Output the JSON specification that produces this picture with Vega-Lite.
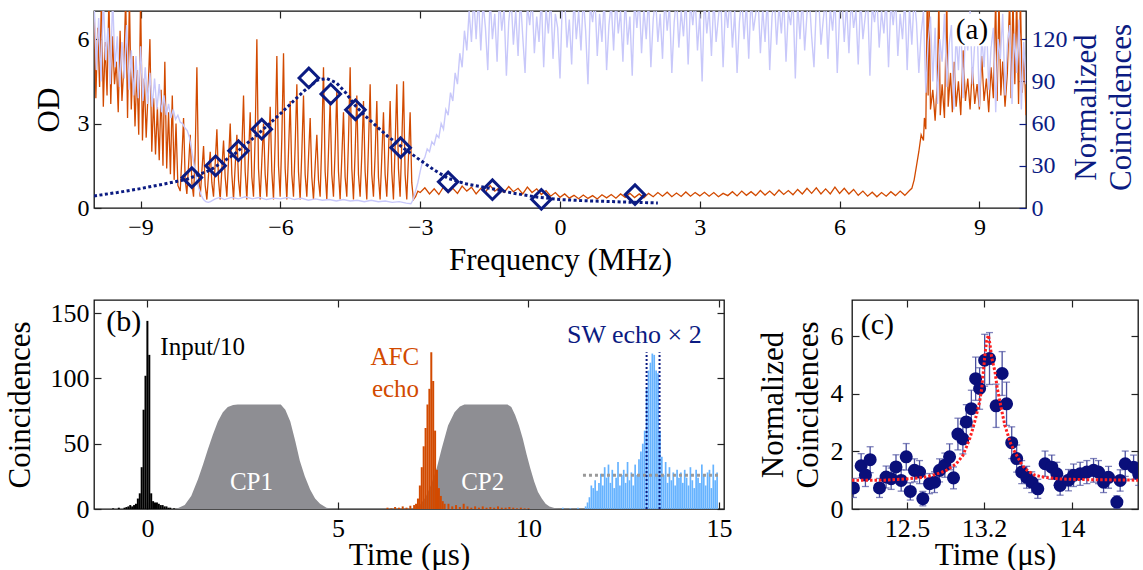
{
"$schema": "https://vega.github.io/schema/vega-lite/v6.json",
"padding": {"left": 3, "top": 9, "right": 0, "bottom": 0},
"background": "white",
"config": {
  "font": "Liberation Serif",
  "view": {"stroke": "#111", "strokeWidth": 1.3},
  "axis": {"grid": false, "domain": false, "labelFont": "Liberation Serif", "titleFont": "Liberation Serif", "titleFontWeight": "normal", "labelColor": "#000", "titleColor": "#000", "tickColor": "#222", "tickWidth": 1.2, "tickSize": -7, "labelFlush": false, "labelOverlap": false}
},
"datasets": {
  "od": [
    {"f":-10.00,"v":7.5},{"f":-9.96,"v":3.9},{"f":-9.92,"v":6.4},{"f":-9.88,"v":4.3},{"f":-9.84,"v":7.5},{"f":-9.80,"v":3.6},{"f":-9.76,"v":5.9},{"f":-9.72,"v":4.0},{"f":-9.68,"v":7.5},{"f":-9.64,"v":3.7},{"f":-9.60,"v":6.1},{"f":-9.56,"v":4.4},{"f":-9.52,"v":5.2},{"f":-9.48,"v":3.4},{"f":-9.44,"v":6.3},{"f":-9.40,"v":3.8},{"f":-9.36,"v":5.0},{"f":-9.32,"v":7.5},{"f":-9.28,"v":3.2},{"f":-9.24,"v":7.5},{"f":-9.20,"v":3.5},{"f":-9.16,"v":5.4},{"f":-9.12,"v":2.9},{"f":-9.08,"v":4.9},{"f":-9.04,"v":2.6},{"f":-9.00,"v":7.5},{"f":-8.96,"v":2.4},{"f":-8.92,"v":4.6},{"f":-8.88,"v":2.5},{"f":-8.84,"v":4.1},{"f":-8.80,"v":6.0},{"f":-8.76,"v":2.0},{"f":-8.72,"v":3.9},{"f":-8.68,"v":1.9},{"f":-8.64,"v":3.6},{"f":-8.60,"v":1.7},{"f":-8.56,"v":4.2},{"f":-8.52,"v":1.5},{"f":-8.48,"v":5.2},{"f":-8.44,"v":1.4},{"f":-8.40,"v":3.4},{"f":-8.36,"v":1.2},{"f":-8.32,"v":4.0},{"f":-8.28,"v":1.0},{"f":-8.24,"v":3.0},{"f":-8.20,"v":0.8},
    {"f":-8.150,"v":0.6},{"f":-8.114,"v":1.8},{"f":-8.078,"v":3.2},{"f":-8.043,"v":1.0},
    {"f":-8.007,"v":0.5},{"f":-7.971,"v":1.5},{"f":-7.935,"v":2.6},{"f":-7.900,"v":0.9},
    {"f":-7.864,"v":0.4},{"f":-7.828,"v":2.0},{"f":-7.792,"v":5.0},{"f":-7.757,"v":1.2},
    {"f":-7.721,"v":0.4},{"f":-7.685,"v":1.3},{"f":-7.649,"v":2.2},{"f":-7.614,"v":0.8},
    {"f":-7.578,"v":0.3},{"f":-7.542,"v":1.2},{"f":-7.506,"v":2.0},{"f":-7.471,"v":0.9},
    {"f":-7.435,"v":0.4},{"f":-7.399,"v":1.6},{"f":-7.363,"v":2.8},{"f":-7.328,"v":1.0},
    {"f":-7.292,"v":0.3},{"f":-7.256,"v":1.4},{"f":-7.220,"v":2.4},{"f":-7.185,"v":1.1},
    {"f":-7.149,"v":0.4},{"f":-7.113,"v":1.7},{"f":-7.077,"v":3.0},{"f":-7.042,"v":1.2},
    {"f":-7.006,"v":0.3},{"f":-6.970,"v":1.5},{"f":-6.934,"v":2.6},{"f":-6.899,"v":1.0},
    {"f":-6.863,"v":0.4},{"f":-6.827,"v":2.1},{"f":-6.791,"v":4.0},{"f":-6.756,"v":1.3},
    {"f":-6.720,"v":0.3},{"f":-6.684,"v":1.8},{"f":-6.648,"v":3.4},{"f":-6.613,"v":1.1},
    {"f":-6.577,"v":0.4},{"f":-6.541,"v":2.6},{"f":-6.505,"v":6.0},{"f":-6.470,"v":1.4},
    {"f":-6.434,"v":0.3},{"f":-6.398,"v":1.7},{"f":-6.362,"v":3.0},{"f":-6.327,"v":1.2},
    {"f":-6.291,"v":0.4},{"f":-6.255,"v":2.0},{"f":-6.219,"v":3.6},{"f":-6.184,"v":1.3},
    {"f":-6.148,"v":0.3},{"f":-6.112,"v":2.4},{"f":-6.076,"v":5.4},{"f":-6.041,"v":1.5},
    {"f":-6.005,"v":0.4},{"f":-5.969,"v":2.5},{"f":-5.933,"v":5.5},{"f":-5.898,"v":1.4},
    {"f":-5.862,"v":0.3},{"f":-5.826,"v":2.0},{"f":-5.790,"v":3.8},{"f":-5.755,"v":1.2},
    {"f":-5.719,"v":0.4},{"f":-5.683,"v":2.2},{"f":-5.647,"v":4.4},{"f":-5.612,"v":1.3},
    {"f":-5.576,"v":0.3},{"f":-5.540,"v":2.0},{"f":-5.504,"v":4.0},{"f":-5.469,"v":1.2},
    {"f":-5.433,"v":0.4},{"f":-5.397,"v":1.8},{"f":-5.361,"v":3.2},{"f":-5.326,"v":1.1},
    {"f":-5.290,"v":0.3},{"f":-5.254,"v":1.5},{"f":-5.218,"v":2.6},{"f":-5.183,"v":1.0},
    {"f":-5.147,"v":0.4},{"f":-5.111,"v":2.4},{"f":-5.075,"v":5.0},{"f":-5.040,"v":1.3},
    {"f":-5.004,"v":0.3},{"f":-4.968,"v":2.0},{"f":-4.932,"v":3.8},{"f":-4.897,"v":1.2},
    {"f":-4.861,"v":0.4},{"f":-4.825,"v":2.1},{"f":-4.789,"v":4.2},{"f":-4.754,"v":1.3},
    {"f":-4.718,"v":0.3},{"f":-4.682,"v":1.8},{"f":-4.646,"v":3.4},{"f":-4.611,"v":1.1},
    {"f":-4.575,"v":0.4},{"f":-4.539,"v":2.4},{"f":-4.503,"v":5.0},{"f":-4.468,"v":1.4},
    {"f":-4.432,"v":0.3},{"f":-4.396,"v":2.0},{"f":-4.360,"v":4.0},{"f":-4.325,"v":1.2},
    {"f":-4.289,"v":0.4},{"f":-4.253,"v":1.9},{"f":-4.217,"v":3.8},{"f":-4.182,"v":1.3},
    {"f":-4.146,"v":0.3},{"f":-4.110,"v":2.2},{"f":-4.074,"v":4.4},{"f":-4.039,"v":1.2},
    {"f":-4.003,"v":0.4},{"f":-3.967,"v":1.9},{"f":-3.931,"v":3.8},{"f":-3.896,"v":1.1},
    {"f":-3.860,"v":0.3},{"f":-3.824,"v":1.8},{"f":-3.788,"v":3.4},{"f":-3.753,"v":1.2},
    {"f":-3.717,"v":0.4},{"f":-3.681,"v":1.9},{"f":-3.645,"v":3.8},{"f":-3.610,"v":1.3},
    {"f":-3.574,"v":0.3},{"f":-3.538,"v":2.2},{"f":-3.502,"v":4.4},{"f":-3.467,"v":1.4},
    {"f":-3.431,"v":0.4},{"f":-3.395,"v":2.3},{"f":-3.359,"v":4.5},{"f":-3.324,"v":1.2},
    {"f":-3.288,"v":0.3},{"f":-3.252,"v":1.8},{"f":-3.216,"v":3.4},{"f":-3.181,"v":0.9},
    {"f":-3.145,"v":0.3},{"f":-3.10,"v":0.4},{"f":-3.05,"v":0.6},
    {"f":-3.0,"v":0.55},{"f":-2.9,"v":0.72},{"f":-2.8,"v":0.5},{"f":-2.7,"v":0.68},{"f":-2.6,"v":0.48},{"f":-2.5,"v":0.75},{"f":-2.4,"v":0.55},{"f":-2.3,"v":0.7},{"f":-2.2,"v":0.52},{"f":-2.1,"v":0.78},{"f":-2.0,"v":0.6},{"f":-1.9,"v":0.74},{"f":-1.8,"v":0.5},{"f":-1.7,"v":0.7},{"f":-1.6,"v":0.56},{"f":-1.5,"v":0.8},{"f":-1.4,"v":0.6},{"f":-1.3,"v":0.72},{"f":-1.2,"v":0.55},{"f":-1.1,"v":0.76},{"f":-1.0,"v":0.58},{"f":-0.9,"v":0.7},{"f":-0.8,"v":0.5},{"f":-0.7,"v":0.74},{"f":-0.6,"v":0.55},{"f":-0.5,"v":0.68},{"f":-0.4,"v":0.48},{"f":-0.3,"v":0.62},{"f":-0.2,"v":0.42},{"f":-0.1,"v":0.55},
    {"f":0.0,"v":0.38},{"f":0.1,"v":0.5},{"f":0.2,"v":0.35},{"f":0.3,"v":0.45},{"f":0.4,"v":0.33},{"f":0.5,"v":0.46},{"f":0.6,"v":0.34},{"f":0.7,"v":0.44},{"f":0.8,"v":0.32},{"f":0.9,"v":0.47},{"f":1.0,"v":0.36},{"f":1.1,"v":0.48},{"f":1.2,"v":0.35},{"f":1.3,"v":0.5},{"f":1.4,"v":0.38},{"f":1.5,"v":0.52},{"f":1.6,"v":0.37},{"f":1.7,"v":0.5},{"f":1.8,"v":0.36},{"f":1.9,"v":0.52},{"f":2.0,"v":0.4},{"f":2.1,"v":0.55},{"f":2.2,"v":0.42},{"f":2.3,"v":0.56},{"f":2.4,"v":0.4},{"f":2.5,"v":0.53},{"f":2.6,"v":0.41},{"f":2.7,"v":0.57},{"f":2.8,"v":0.42},{"f":2.9,"v":0.55},{"f":3.0,"v":0.43},{"f":3.1,"v":0.56},{"f":3.2,"v":0.42},{"f":3.3,"v":0.55},{"f":3.4,"v":0.4},{"f":3.5,"v":0.52},{"f":3.6,"v":0.44},{"f":3.7,"v":0.58},{"f":3.8,"v":0.43},{"f":3.9,"v":0.6},{"f":4.0,"v":0.45},{"f":4.1,"v":0.58},{"f":4.2,"v":0.44},{"f":4.3,"v":0.62},{"f":4.4,"v":0.46},{"f":4.5,"v":0.6},{"f":4.6,"v":0.45},{"f":4.7,"v":0.64},{"f":4.8,"v":0.48},{"f":4.9,"v":0.62},{"f":5.0,"v":0.47},{"f":5.1,"v":0.66},{"f":5.2,"v":0.5},{"f":5.3,"v":0.7},{"f":5.4,"v":0.52},{"f":5.5,"v":0.72},{"f":5.6,"v":0.5},{"f":5.7,"v":0.68},{"f":5.8,"v":0.5},{"f":5.9,"v":0.74},{"f":6.0,"v":0.52},{"f":6.1,"v":0.7},{"f":6.2,"v":0.5},{"f":6.3,"v":0.66},{"f":6.4,"v":0.45},{"f":6.5,"v":0.6},{"f":6.6,"v":0.42},{"f":6.7,"v":0.56},{"f":6.8,"v":0.4},{"f":6.9,"v":0.55},{"f":7.0,"v":0.42},{"f":7.1,"v":0.58},{"f":7.2,"v":0.44},{"f":7.3,"v":0.6},{"f":7.4,"v":0.45},{"f":7.5,"v":0.62},
    {"f":7.55,"v":0.7},{"f":7.6,"v":1.0},{"f":7.65,"v":1.5},{"f":7.7,"v":2.0},{"f":7.75,"v":2.6},{"f":7.8,"v":2.4},{"f":7.82,"v":3.2},{"f":7.85,"v":2.8},{"f":7.88,"v":7.5},{"f":7.9,"v":4.0},{"f":7.92,"v":7.5},
    {"f":7.95,"v":3.5},{"f":8.0,"v":4.2},{"f":8.05,"v":3.1},{"f":8.1,"v":4.6},{"f":8.13,"v":7.5},{"f":8.16,"v":3.3},{"f":8.2,"v":4.4},{"f":8.25,"v":3.2},{"f":8.3,"v":7.5},{"f":8.33,"v":3.6},{"f":8.38,"v":4.8},{"f":8.42,"v":3.4},{"f":8.46,"v":5.2},{"f":8.5,"v":3.6},{"f":8.55,"v":4.5},{"f":8.6,"v":3.3},{"f":8.65,"v":5.6},{"f":8.7,"v":3.8},{"f":8.75,"v":4.6},{"f":8.8,"v":3.5},{"f":8.85,"v":5.0},{"f":8.9,"v":3.7},{"f":8.95,"v":4.4},{"f":9.0,"v":3.5},{"f":9.05,"v":5.4},{"f":9.1,"v":3.8},{"f":9.15,"v":4.6},{"f":9.2,"v":3.4},{"f":9.25,"v":5.0},{"f":9.3,"v":3.9},{"f":9.35,"v":7.5},{"f":9.38,"v":3.8},{"f":9.42,"v":7.5},{"f":9.46,"v":4.0},{"f":9.5,"v":5.2},{"f":9.55,"v":3.6},{"f":9.6,"v":4.8},{"f":9.65,"v":7.5},{"f":9.68,"v":3.9},{"f":9.72,"v":7.5},{"f":9.76,"v":4.4},{"f":9.8,"v":7.5},{"f":9.84,"v":3.7},{"f":9.88,"v":7.5},{"f":9.92,"v":4.1},{"f":9.96,"v":5.5},{"f":10.0,"v":3.3}
  ],
  "tr": [
    {"f":-10.00,"v":150},{"f":-9.95,"v":98},{"f":-9.90,"v":135},{"f":-9.85,"v":90},{"f":-9.80,"v":150},{"f":-9.75,"v":105},{"f":-9.70,"v":128},{"f":-9.65,"v":88},{"f":-9.60,"v":150},{"f":-9.55,"v":100},{"f":-9.50,"v":122},{"f":-9.45,"v":86},{"f":-9.40,"v":118},{"f":-9.35,"v":92},{"f":-9.30,"v":130},{"f":-9.25,"v":84},{"f":-9.20,"v":112},{"f":-9.15,"v":80},{"f":-9.10,"v":108},{"f":-9.05,"v":78},{"f":-9.00,"v":115},{"f":-8.95,"v":76},{"f":-8.90,"v":100},{"f":-8.85,"v":74},{"f":-8.80,"v":96},{"f":-8.75,"v":72},{"f":-8.70,"v":92},{"f":-8.65,"v":70},{"f":-8.60,"v":88},{"f":-8.55,"v":68},{"f":-8.50,"v":80},{"f":-8.45,"v":66},{"f":-8.40,"v":74},{"f":-8.35,"v":64},{"f":-8.30,"v":70},{"f":-8.25,"v":63},{"f":-8.20,"v":66},{"f":-8.15,"v":61},{"f":-8.10,"v":60},{"f":-8.05,"v":57},{"f":-8.00,"v":55},{"f":-7.95,"v":50},{"f":-7.90,"v":40},{"f":-7.85,"v":30},{"f":-7.80,"v":20},{"f":-7.75,"v":14},{"f":-7.70,"v":9},{"f":-7.65,"v":6},{"f":-7.60,"v":4.5},{"f":-7.55,"v":4},{"f":-7.50,"v":4.5},{"f":-7.40,"v":6.5},{"f":-7.30,"v":7.5},
    {"f":-7.2,"v":6},{"f":-7.05,"v":7.5},{"f":-6.9,"v":6.5},{"f":-6.75,"v":8},{"f":-6.6,"v":6.5},{"f":-6.45,"v":7.5},{"f":-6.3,"v":6},{"f":-6.15,"v":7},{"f":-6.0,"v":6.5},{"f":-5.85,"v":7.5},{"f":-5.7,"v":6},{"f":-5.55,"v":7},{"f":-5.4,"v":5.5},{"f":-5.25,"v":6.5},{"f":-5.1,"v":5.5},{"f":-4.95,"v":6},{"f":-4.8,"v":5},{"f":-4.65,"v":6},{"f":-4.5,"v":5},{"f":-4.35,"v":5.5},{"f":-4.2,"v":4.5},{"f":-4.05,"v":5.5},{"f":-3.9,"v":4.5},{"f":-3.75,"v":5},{"f":-3.6,"v":4},{"f":-3.45,"v":4.5},{"f":-3.3,"v":3.5},{"f":-3.2,"v":3},
    {"f":-3.15,"v":6},{"f":-3.1,"v":12},{"f":-3.05,"v":18},{"f":-3.0,"v":26},{"f":-2.95,"v":33},{"f":-2.9,"v":36},{"f":-2.85,"v":42},{"f":-2.8,"v":40},{"f":-2.75,"v":47},{"f":-2.7,"v":45},{"f":-2.65,"v":52},{"f":-2.6,"v":50},{"f":-2.55,"v":60},{"f":-2.5,"v":56},{"f":-2.45,"v":70},{"f":-2.4,"v":66},{"f":-2.35,"v":82},{"f":-2.3,"v":76},{"f":-2.25,"v":96},{"f":-2.2,"v":88},{"f":-2.15,"v":110},{"f":-2.1,"v":100},{"f":-2.05,"v":126},{"f":-2.0,"v":112},{"f":-1.95,"v":140},{"f":-1.9,"v":118},{"f":-1.85,"v":150},{"f":-1.8,"v":120},
    {"f":-1.75,"v":150},{"f":-1.70,"v":112},{"f":-1.65,"v":146},{"f":-1.60,"v":128},{"f":-1.55,"v":98},{"f":-1.50,"v":150},{"f":-1.45,"v":120},{"f":-1.40,"v":138},{"f":-1.35,"v":104},{"f":-1.30,"v":150},
    {"f":-1.25,"v":126},{"f":-1.20,"v":142},{"f":-1.15,"v":94},{"f":-1.10,"v":132},{"f":-1.05,"v":150},{"f":-1.00,"v":116},{"f":-0.95,"v":140},{"f":-0.90,"v":108},{"f":-0.85,"v":150},{"f":-0.80,"v":122},
    {"f":-0.75,"v":96},{"f":-0.70,"v":144},{"f":-0.65,"v":130},{"f":-0.60,"v":150},{"f":-0.55,"v":110},{"f":-0.50,"v":136},{"f":-0.45,"v":118},{"f":-0.40,"v":150},{"f":-0.35,"v":100},{"f":-0.30,"v":142},
    {"f":-0.25,"v":124},{"f":-0.20,"v":150},{"f":-0.15,"v":106},{"f":-0.10,"v":138},{"f":-0.05,"v":128},{"f":0.00,"v":92},{"f":0.05,"v":146},{"f":0.10,"v":150},{"f":0.15,"v":114},{"f":0.20,"v":134},
    {"f":0.25,"v":102},{"f":0.30,"v":150},{"f":0.35,"v":120},{"f":0.40,"v":140},{"f":0.45,"v":112},{"f":0.50,"v":150},{"f":0.55,"v":126},{"f":0.60,"v":88},{"f":0.65,"v":144},{"f":0.70,"v":132},
    {"f":0.75,"v":150},{"f":0.80,"v":108},{"f":0.85,"v":138},{"f":0.90,"v":118},{"f":0.95,"v":150},{"f":1.00,"v":98},{"f":1.05,"v":130},{"f":1.10,"v":146},{"f":1.15,"v":112},{"f":1.20,"v":150},
    {"f":1.25,"v":124},{"f":1.30,"v":140},{"f":1.35,"v":104},{"f":1.40,"v":150},{"f":1.45,"v":116},{"f":1.50,"v":136},{"f":1.55,"v":94},{"f":1.60,"v":148},{"f":1.65,"v":128},{"f":1.70,"v":150},
    {"f":1.75,"v":110},{"f":1.80,"v":142},{"f":1.85,"v":120},{"f":1.90,"v":150},{"f":1.95,"v":100},{"f":2.00,"v":134},{"f":2.05,"v":150},{"f":2.10,"v":118},{"f":2.15,"v":138},{"f":2.20,"v":106},
    {"f":2.25,"v":150},{"f":2.30,"v":126},{"f":2.35,"v":144},{"f":2.40,"v":96},{"f":2.45,"v":132},{"f":2.50,"v":150},{"f":2.55,"v":114},{"f":2.60,"v":140},{"f":2.65,"v":122},{"f":2.70,"v":150},
    {"f":2.75,"v":102},{"f":2.80,"v":146},{"f":2.85,"v":130},{"f":2.90,"v":150},{"f":2.95,"v":112},{"f":3.00,"v":138},{"f":3.05,"v":90},{"f":3.10,"v":150},{"f":3.15,"v":124},{"f":3.20,"v":142},
    {"f":3.25,"v":108},{"f":3.30,"v":150},{"f":3.35,"v":118},{"f":3.40,"v":136},{"f":3.45,"v":150},{"f":3.50,"v":100},{"f":3.55,"v":144},{"f":3.60,"v":128},{"f":3.65,"v":150},{"f":3.70,"v":114},
    {"f":3.75,"v":140},{"f":3.80,"v":96},{"f":3.85,"v":132},{"f":3.90,"v":150},{"f":3.95,"v":120},{"f":4.00,"v":146},{"f":4.05,"v":106},{"f":4.10,"v":150},{"f":4.15,"v":126},{"f":4.20,"v":138},
    {"f":4.25,"v":150},{"f":4.30,"v":110},{"f":4.35,"v":142},{"f":4.40,"v":118},{"f":4.45,"v":150},{"f":4.50,"v":98},{"f":4.55,"v":136},{"f":4.60,"v":150},{"f":4.65,"v":116},{"f":4.70,"v":144},
    {"f":4.75,"v":124},{"f":4.80,"v":150},{"f":4.85,"v":104},{"f":4.90,"v":140},{"f":4.95,"v":130},{"f":5.00,"v":150},{"f":5.05,"v":92},{"f":5.10,"v":146},{"f":5.15,"v":120},{"f":5.20,"v":150},
    {"f":5.25,"v":112},{"f":5.30,"v":138},{"f":5.35,"v":150},{"f":5.40,"v":122},{"f":5.45,"v":100},{"f":5.50,"v":144},{"f":5.55,"v":150},{"f":5.60,"v":116},{"f":5.65,"v":134},{"f":5.70,"v":150},
    {"f":5.75,"v":106},{"f":5.80,"v":142},{"f":5.85,"v":126},{"f":5.90,"v":150},{"f":5.95,"v":96},{"f":6.00,"v":138},{"f":6.05,"v":150},{"f":6.10,"v":118},{"f":6.15,"v":146},{"f":6.20,"v":110},
    {"f":6.25,"v":150},{"f":6.30,"v":128},{"f":6.35,"v":140},{"f":6.40,"v":102},{"f":6.45,"v":150},{"f":6.50,"v":120},{"f":6.55,"v":136},{"f":6.60,"v":150},{"f":6.65,"v":94},{"f":6.70,"v":144},
    {"f":6.75,"v":132},{"f":6.80,"v":150},{"f":6.85,"v":114},{"f":6.90,"v":140},{"f":6.95,"v":124},{"f":7.00,"v":150},{"f":7.05,"v":100},{"f":7.10,"v":146},{"f":7.15,"v":130},{"f":7.20,"v":150},
    {"f":7.25,"v":108},{"f":7.30,"v":138},{"f":7.35,"v":120},{"f":7.40,"v":150},{"f":7.45,"v":98},{"f":7.50,"v":142},{"f":7.55,"v":116},{"f":7.60,"v":150},
    {"f":7.65,"v":132},{"f":7.70,"v":96},{"f":7.75,"v":124},{"f":7.80,"v":140},{"f":7.85,"v":82},{"f":7.90,"v":118},{"f":7.95,"v":136},{"f":8.00,"v":90},{"f":8.05,"v":128},{"f":8.10,"v":74},
    {"f":8.15,"v":120},{"f":8.20,"v":104},{"f":8.25,"v":138},{"f":8.30,"v":86},{"f":8.35,"v":116},{"f":8.40,"v":130},{"f":8.45,"v":70},{"f":8.50,"v":124},{"f":8.55,"v":98},{"f":8.60,"v":134},
    {"f":8.65,"v":78},{"f":8.70,"v":126},{"f":8.75,"v":112},{"f":8.80,"v":140},{"f":8.85,"v":88},{"f":8.90,"v":118},{"f":8.95,"v":132},{"f":9.00,"v":72},{"f":9.05,"v":122},{"f":9.10,"v":100},
    {"f":9.15,"v":136},{"f":9.20,"v":84},{"f":9.25,"v":114},{"f":9.30,"v":128},{"f":9.35,"v":68},{"f":9.40,"v":120},{"f":9.45,"v":106},{"f":9.50,"v":138},{"f":9.55,"v":80},{"f":9.60,"v":116},
    {"f":9.65,"v":130},{"f":9.70,"v":74},{"f":9.75,"v":124},{"f":9.80,"v":96},{"f":9.85,"v":134},{"f":9.90,"v":70},{"f":9.95,"v":118},{"f":10.00,"v":88}
  ],
  "gfit": [
    {"f":-10,"v":8.6},{"f":-9.5,"v":11},{"f":-9,"v":13.8},{"f":-8.5,"v":17},{"f":-8,"v":20.5},{"f":-7.5,"v":27},{"f":-7,"v":38},{"f":-6.5,"v":52},{"f":-6,"v":67},{"f":-5.5,"v":83},{"f":-5.2,"v":91},{"f":-5.0,"v":92},{"f":-4.8,"v":89},{"f":-4.6,"v":82},{"f":-4.4,"v":73},{"f":-4.2,"v":66},{"f":-4.0,"v":60},{"f":-3.7,"v":51},{"f":-3.4,"v":43.6},{"f":-3.0,"v":34},{"f":-2.7,"v":27},{"f":-2.4,"v":21},{"f":-2.0,"v":17},{"f":-1.5,"v":14},{"f":-1.0,"v":10.5},{"f":-0.5,"v":7.8},{"f":0,"v":6},{"f":0.5,"v":5.2},{"f":1.0,"v":4.7},{"f":1.6,"v":4.0},{"f":2.1,"v":3.6}
  ],
  "dia": [
    {"f":-7.90,"v":21.6},{"f":-7.39,"v":30},{"f":-6.90,"v":40.7},{"f":-6.40,"v":56},{"f":-5.39,"v":92.4},{"f":-4.92,"v":81},{"f":-4.39,"v":69.8},{"f":-3.42,"v":42.9},{"f":-2.40,"v":18.6},{"f":-1.45,"v":13},{"f":-0.40,"v":6.2},{"f":1.61,"v":9.5}
  ],
  "inp": [
    {"t":-0.9,"v":0.5},{"t":-0.75,"v":1},{"t":-0.6,"v":1},{"t":-0.55,"v":1.5},{"t":-0.5,"v":2},{"t":-0.45,"v":3},{"t":-0.4,"v":2},{"t":-0.35,"v":3},{"t":-0.3,"v":4},{"t":-0.25,"v":8},{"t":-0.2,"v":12},{"t":-0.15,"v":32},{"t":-0.1,"v":76},{"t":-0.05,"v":102},{"t":0.0,"v":144},{"t":0.05,"v":118},{"t":0.1,"v":12},{"t":0.15,"v":6},{"t":0.2,"v":5},{"t":0.25,"v":5},{"t":0.3,"v":4},{"t":0.35,"v":3},{"t":0.4,"v":3},{"t":0.45,"v":2},{"t":0.5,"v":2},{"t":0.55,"v":1},{"t":0.6,"v":1},{"t":0.7,"v":0.5}
  ],
  "afc": [
    {"t":6.3,"v":1},{"t":6.4,"v":0.5},{"t":6.5,"v":1.5},{"t":6.6,"v":1},{"t":6.7,"v":2},{"t":6.8,"v":1},{"t":6.9,"v":2.5},{"t":7.0,"v":3},{"t":7.05,"v":4},{"t":7.10,"v":8},{"t":7.15,"v":18},{"t":7.20,"v":32},{"t":7.25,"v":48},{"t":7.30,"v":62},{"t":7.35,"v":80},{"t":7.40,"v":92},{"t":7.45,"v":120},{"t":7.50,"v":98},{"t":7.55,"v":60},{"t":7.60,"v":30},{"t":7.65,"v":16},{"t":7.70,"v":10},{"t":7.75,"v":6},{"t":7.80,"v":4},{"t":7.9,"v":4},{"t":8.0,"v":2},{"t":8.1,"v":3},{"t":8.2,"v":1.5},{"t":8.3,"v":4},{"t":8.4,"v":2},{"t":8.5,"v":1},{"t":8.6,"v":2},{"t":8.7,"v":1},{"t":8.8,"v":2},{"t":8.9,"v":1},{"t":9.0,"v":1.5},{"t":9.1,"v":1},{"t":9.2,"v":2},{"t":9.3,"v":1},{"t":9.4,"v":1},{"t":9.5,"v":1.5},{"t":9.6,"v":1},{"t":9.7,"v":0.5},{"t":9.8,"v":1},{"t":9.9,"v":0.5},{"t":10.0,"v":0.5}
  ],
  "sw": [
    {"t":10.9,"v":1},{"t":11.1,"v":0.5},{"t":11.3,"v":1},
    {"t":11.50,"v":2},{"t":11.55,"v":5},{"t":11.60,"v":9},{"t":11.65,"v":18},{"t":11.70,"v":16},{"t":11.75,"v":22},{"t":11.80,"v":14},{"t":11.85,"v":20},{"t":11.90,"v":27},{"t":11.95,"v":18},{"t":12.00,"v":32},{"t":12.05,"v":24},{"t":12.10,"v":34},{"t":12.15,"v":20},{"t":12.20,"v":30},{"t":12.25,"v":16},{"t":12.30,"v":24},{"t":12.35,"v":36},{"t":12.40,"v":18},{"t":12.45,"v":26},{"t":12.50,"v":30},{"t":12.55,"v":20},{"t":12.60,"v":36},{"t":12.65,"v":22},{"t":12.70,"v":28},{"t":12.75,"v":18},{"t":12.80,"v":34},{"t":12.85,"v":26},{"t":12.90,"v":38},{"t":12.95,"v":44},{"t":13.00,"v":50},{"t":13.05,"v":60},{"t":13.10,"v":92},{"t":13.15,"v":106},{"t":13.20,"v":112},{"t":13.25,"v":119},{"t":13.30,"v":118},{"t":13.35,"v":106},{"t":13.40,"v":104},{"t":13.45,"v":60},{"t":13.50,"v":40},{"t":13.55,"v":26},{"t":13.60,"v":36},{"t":13.65,"v":20},{"t":13.70,"v":32},{"t":13.75,"v":22},{"t":13.80,"v":28},{"t":13.85,"v":18},{"t":13.90,"v":30},{"t":13.95,"v":24},{"t":14.00,"v":28},{"t":14.05,"v":20},{"t":14.10,"v":30},{"t":14.15,"v":24},{"t":14.20,"v":18},{"t":14.25,"v":32},{"t":14.30,"v":22},{"t":14.35,"v":16},{"t":14.40,"v":30},{"t":14.45,"v":24},{"t":14.50,"v":20},{"t":14.55,"v":34},{"t":14.60,"v":26},{"t":14.65,"v":18},{"t":14.70,"v":28},{"t":14.75,"v":30},{"t":14.80,"v":16},{"t":14.85,"v":34},{"t":14.90,"v":22},{"t":14.95,"v":28}
  ],
  "cp1": [
    {"t":0.75,"v":0},{"t":0.98,"v":3},{"t":1.15,"v":10},{"t":1.33,"v":23},{"t":1.46,"v":34},{"t":1.59,"v":46},{"t":1.72,"v":57},{"t":1.85,"v":67},{"t":1.98,"v":74},{"t":2.11,"v":78},{"t":2.25,"v":79.6},{"t":2.37,"v":80},{"t":3.5,"v":80},{"t":3.62,"v":76},{"t":3.75,"v":67},{"t":3.88,"v":52},{"t":4.0,"v":37},{"t":4.13,"v":25},{"t":4.27,"v":15},{"t":4.4,"v":8},{"t":4.53,"v":4},{"t":4.7,"v":1},{"t":4.9,"v":0}
  ],
  "cp2": [
    {"t":7.0,"v":0},{"t":7.15,"v":3},{"t":7.3,"v":9},{"t":7.45,"v":19},{"t":7.59,"v":31},{"t":7.72,"v":46},{"t":7.89,"v":64},{"t":8.06,"v":74},{"t":8.2,"v":78.5},{"t":8.32,"v":80},{"t":9.45,"v":80},{"t":9.55,"v":78},{"t":9.65,"v":72},{"t":9.75,"v":64},{"t":9.85,"v":54},{"t":9.95,"v":42},{"t":10.05,"v":31},{"t":10.15,"v":21},{"t":10.25,"v":13},{"t":10.35,"v":8},{"t":10.45,"v":4},{"t":10.55,"v":2},{"t":10.7,"v":0.5},{"t":10.8,"v":0}
  ],
  "pts": [
    {"t":12.013,"v":0.73,"lo":0.40,"hi":1.06},{"t":12.083,"v":1.50,"lo":1.08,"hi":1.92},{"t":12.122,"v":1.18,"lo":0.78,"hi":1.58},{"t":12.165,"v":1.71,"lo":1.26,"hi":2.16},{"t":12.25,"v":0.73,"lo":0.40,"hi":1.06},{"t":12.31,"v":1.11,"lo":0.73,"hi":1.49},{"t":12.356,"v":1.05,"lo":0.68,"hi":1.42},{"t":12.40,"v":1.46,"lo":1.04,"hi":1.88},{"t":12.447,"v":0.99,"lo":0.62,"hi":1.36},{"t":12.493,"v":1.81,"lo":1.35,"hi":2.27},{"t":12.53,"v":0.61,"lo":0.31,"hi":0.91},{"t":12.568,"v":1.34,"lo":0.94,"hi":1.74},{"t":12.614,"v":1.28,"lo":0.88,"hi":1.68},{"t":12.644,"v":0.36,"lo":0.11,"hi":0.61},{"t":12.705,"v":0.88,"lo":0.53,"hi":1.23},{"t":12.75,"v":0.93,"lo":0.57,"hi":1.29},{"t":12.796,"v":1.34,"lo":0.94,"hi":1.74},{"t":12.844,"v":1.52,"lo":1.10,"hi":1.94},{"t":12.887,"v":1.81,"lo":1.36,"hi":2.26},{"t":12.923,"v":1.08,"lo":0.70,"hi":1.46},{"t":12.963,"v":2.60,"lo":2.05,"hi":3.15},{"t":13.008,"v":2.43,"lo":1.91,"hi":2.95},{"t":13.039,"v":3.02,"lo":2.42,"hi":3.62},{"t":13.085,"v":3.48,"lo":2.84,"hi":4.12},{"t":13.124,"v":4.52,"lo":3.77,"hi":5.27},{"t":13.16,"v":4.18,"lo":3.46,"hi":4.90},{"t":13.206,"v":5.16,"lo":4.26,"hi":6.06},{"t":13.25,"v":5.22,"lo":4.32,"hi":6.12},{"t":13.31,"v":3.58,"lo":2.83,"hi":4.33},{"t":13.365,"v":4.70,"lo":3.94,"hi":5.46},{"t":13.405,"v":3.65,"lo":2.90,"hi":4.40},{"t":13.452,"v":2.30,"lo":1.75,"hi":2.85},{"t":13.497,"v":1.75,"lo":1.28,"hi":2.22},{"t":13.543,"v":1.28,"lo":0.88,"hi":1.68},{"t":13.588,"v":1.10,"lo":0.72,"hi":1.48},{"t":13.634,"v":0.93,"lo":0.57,"hi":1.29},{"t":13.689,"v":0.70,"lo":0.37,"hi":1.03},{"t":13.755,"v":1.57,"lo":1.13,"hi":2.01},{"t":13.816,"v":1.45,"lo":1.03,"hi":1.87},{"t":13.862,"v":1.22,"lo":0.82,"hi":1.62},{"t":13.892,"v":0.82,"lo":0.48,"hi":1.16},{"t":13.968,"v":1.00,"lo":0.63,"hi":1.37},{"t":14.014,"v":1.17,"lo":0.78,"hi":1.56},{"t":14.074,"v":1.22,"lo":0.82,"hi":1.62},{"t":14.135,"v":1.28,"lo":0.88,"hi":1.68},{"t":14.196,"v":1.34,"lo":0.93,"hi":1.75},{"t":14.241,"v":1.28,"lo":0.88,"hi":1.68},{"t":14.287,"v":0.93,"lo":0.57,"hi":1.29},{"t":14.332,"v":1.10,"lo":0.72,"hi":1.48},{"t":14.408,"v":0.24,"lo":0.02,"hi":0.46},{"t":14.438,"v":0.99,"lo":0.62,"hi":1.36},{"t":14.484,"v":1.57,"lo":1.13,"hi":2.01},{"t":14.56,"v":1.45,"lo":1.03,"hi":1.87},{"t":14.606,"v":1.22,"lo":0.82,"hi":1.62}
  ],
  "rfit": [
    {"t":12.0,"v":1.0},{"t":12.3,"v":1.0},{"t":12.52,"v":1.05},{"t":12.65,"v":1.1},{"t":12.735,"v":1.17},{"t":12.8,"v":1.25},{"t":12.857,"v":1.34},{"t":12.9,"v":1.45},{"t":12.948,"v":1.57},{"t":12.98,"v":1.72},{"t":13.008,"v":1.86},{"t":13.04,"v":2.15},{"t":13.07,"v":2.44},{"t":13.095,"v":2.75},{"t":13.115,"v":3.02},{"t":13.14,"v":3.4},{"t":13.16,"v":3.72},{"t":13.18,"v":4.2},{"t":13.195,"v":4.8},{"t":13.21,"v":5.4},{"t":13.225,"v":5.85},{"t":13.24,"v":6.03},{"t":13.255,"v":5.7},{"t":13.27,"v":5.25},{"t":13.30,"v":4.76},{"t":13.32,"v":4.2},{"t":13.345,"v":3.72},{"t":13.37,"v":3.25},{"t":13.39,"v":2.9},{"t":13.415,"v":2.6},{"t":13.436,"v":2.33},{"t":13.47,"v":2.05},{"t":13.497,"v":1.86},{"t":13.535,"v":1.6},{"t":13.573,"v":1.40},{"t":13.62,"v":1.27},{"t":13.664,"v":1.17},{"t":13.72,"v":1.12},{"t":13.786,"v":1.08},{"t":13.9,"v":1.04},{"t":14.1,"v":1.02},{"t":14.6,"v":1.0}
  ]
},
"bounds": "flush",
"spacing": 92,
"vconcat": [
  {
    "width": 932, "height": 197,
    "resolve": {"scale": {"y": "independent"}, "axis": {"x": "independent", "y": "independent"}},
    "layer": [
      {"data": {"name": "od"},
       "mark": {"type": "line", "color": "#d24a00", "strokeWidth": 1.3, "clip": true},
       "encoding": {
         "x": {"field": "f", "type": "quantitative", "scale": {"domain": [-10, 10], "nice": false, "zero": false},
               "axis": {"orient": "bottom", "values": [-9,-6,-3,0,3,6,9], "labelPadding": 33, "labelBaseline": "alphabetic", "labelFontSize": 24, "title": "Frequency (MHz)", "titleFontSize": 31, "titleBaseline": "alphabetic", "titleY": 61}},
         "y": {"field": "v", "type": "quantitative", "scale": {"domain": [0, 7], "nice": false},
               "axis": {"orient": "left", "values": [0,3,6], "labelPadding": 12, "labelFontSize": 24, "title": "OD", "titleFontSize": 31, "titlePadding": 12}}
       }},
      {"data": {"name": "tr"},
       "mark": {"type": "line", "color": "#c8c8fa", "strokeWidth": 1.4, "clip": true},
       "encoding": {
         "x": {"field": "f", "type": "quantitative",
               "axis": {"orient": "top", "values": [-9,-6,-3,0,3,6,9], "labels": false, "title": null}},
         "y": {"field": "v", "type": "quantitative", "scale": {"domain": [0, 140], "nice": false},
               "axis": {"orient": "right", "values": [0,30,60,90,120], "labelPadding": 12, "labelFontSize": 24, "labelColor": "#0b1b82", "tickColor": "#0b1b82", "title": ["Normalized", "Coincidences"], "titleColor": "#0b1b82", "titleFontSize": 31, "titleAngle": 270, "titleBaseline": "top", "titleAlign": "center", "titleX": 45, "titleY": 96, "titleLineHeight": 35}}
       }},
      {"data": {"name": "gfit"},
       "mark": {"type": "line", "color": "#0b1b82", "strokeWidth": 3, "strokeDash": [3, 2.5], "clip": true},
       "encoding": {
         "x": {"field": "f", "type": "quantitative", "axis": null},
         "y": {"field": "v", "type": "quantitative", "scale": {"domain": [0, 140], "nice": false}, "axis": null}
       }},
      {"data": {"name": "dia"},
       "mark": {"type": "point", "shape": "diamond", "filled": false, "color": "#0b1b82", "strokeWidth": 3, "size": 380, "opacity": 1},
       "encoding": {
         "x": {"field": "f", "type": "quantitative", "axis": null},
         "y": {"field": "v", "type": "quantitative", "scale": {"domain": [0, 140], "nice": false}, "axis": null}
       }},
      {"data": {"values": [{"f": 8.45, "f2": 9.24, "v": 115, "v2": 138}]},
       "mark": {"type": "rect", "color": "white"},
       "encoding": {
         "x": {"field": "f", "type": "quantitative", "axis": null}, "x2": {"field": "f2"},
         "y": {"field": "v", "type": "quantitative", "scale": {"domain": [0, 140], "nice": false}, "axis": null}, "y2": {"field": "v2"}
       }},
      {"data": {"values": [{"f": 8.84, "v": 126.5, "s": "(a)"}]},
       "mark": {"type": "text", "fontSize": 29, "color": "black", "align": "center", "baseline": "middle"},
       "encoding": {
         "x": {"field": "f", "type": "quantitative", "axis": null},
         "y": {"field": "v", "type": "quantitative", "scale": {"domain": [0, 140], "nice": false}, "axis": null},
         "text": {"field": "s"}
       }}
    ]
  },
  {
    "bounds": "flush",
    "spacing": 128,
    "hconcat": [
      {
        "width": 630, "height": 209,
        "resolve": {"axis": {"x": "independent", "y": "independent"}},
        "layer": [
          {"data": {"name": "cp1"},
           "mark": {"type": "area", "color": "#8e8e93", "opacity": 1},
           "encoding": {
             "x": {"field": "t", "type": "quantitative", "scale": {"domain": [-1.27, 15], "nice": false, "zero": false},
                   "axis": {"orient": "bottom", "values": [0,5,10,15], "labelPadding": 34, "labelBaseline": "alphabetic", "labelFontSize": 26, "title": "Time (μs)", "titleFontSize": 31, "titleBaseline": "alphabetic", "titleY": 55}},
             "y": {"field": "v", "type": "quantitative", "scale": {"domain": [0, 160], "nice": false},
                   "axis": {"orient": "left", "values": [0,50,100,150], "labelPadding": 12, "labelFontSize": 26, "title": "Coincidences", "titleFontSize": 31, "titlePadding": 14}}
           }},
          {"data": {"name": "cp2"},
           "mark": {"type": "area", "color": "#8e8e93", "opacity": 1},
           "encoding": {
             "x": {"field": "t", "type": "quantitative", "axis": null},
             "y": {"field": "v", "type": "quantitative", "axis": null}
           }},
          {"data": {"name": "inp"},
           "mark": {"type": "bar", "color": "black", "width": 2},
           "encoding": {
             "x": {"field": "t", "type": "quantitative", "axis": null},
             "y": {"field": "v", "type": "quantitative", "axis": null}
           }},
          {"data": {"name": "afc"},
           "mark": {"type": "bar", "color": "#d24a00", "width": 2},
           "encoding": {
             "x": {"field": "t", "type": "quantitative", "axis": null},
             "y": {"field": "v", "type": "quantitative", "axis": null}
           }},
          {"data": {"name": "sw"},
           "mark": {"type": "bar", "color": "#66b3ff", "width": 1.7, "clip": true},
           "encoding": {
             "x": {"field": "t", "type": "quantitative", "axis": null},
             "y": {"field": "v", "type": "quantitative", "axis": null}
           }},
          {"data": {"values": [{"t": 11.43, "t2": 15, "v": 25.8}]},
           "mark": {"type": "rule", "color": "#999999", "strokeWidth": 3, "strokeDash": [3, 3]},
           "encoding": {
             "x": {"field": "t", "type": "quantitative", "axis": null}, "x2": {"field": "t2"},
             "y": {"field": "v", "type": "quantitative", "axis": null}
           }},
          {"data": {"values": [{"t": 13.1, "v": 0, "v2": 120}, {"t": 13.44, "v": 0, "v2": 120}]},
           "mark": {"type": "rule", "color": "#0b1b82", "strokeWidth": 2, "strokeDash": [2, 2]},
           "encoding": {
             "x": {"field": "t", "type": "quantitative", "axis": null},
             "y": {"field": "v", "type": "quantitative", "axis": null}, "y2": {"field": "v2"}
           }},
          {"data": {"values": [{"t": -0.62, "v": 143, "s": "(b)"}]},
           "mark": {"type": "text", "fontSize": 30, "color": "black", "align": "center", "baseline": "middle"},
           "encoding": {
             "x": {"field": "t", "type": "quantitative", "axis": null},
             "y": {"field": "v", "type": "quantitative", "axis": null},
             "text": {"field": "s"}
           }},
          {"data": {"values": [{"t": 0.34, "v": 124, "s": "Input/10"}]},
           "mark": {"type": "text", "fontSize": 25, "color": "black", "align": "left", "baseline": "middle"},
           "encoding": {
             "x": {"field": "t", "type": "quantitative", "axis": null},
             "y": {"field": "v", "type": "quantitative", "axis": null},
             "text": {"field": "s"}
           }},
          {"data": {"values": [{"t": 7.13, "v": 116, "s": "AFC"}, {"t": 7.13, "v": 92, "s": "echo"}]},
           "mark": {"type": "text", "fontSize": 25, "color": "#d24a00", "align": "right", "baseline": "middle"},
           "encoding": {
             "x": {"field": "t", "type": "quantitative", "axis": null},
             "y": {"field": "v", "type": "quantitative", "axis": null},
             "text": {"field": "s"}
           }},
          {"data": {"values": [{"t": 11.01, "v": 133, "s": "SW echo × 2"}]},
           "mark": {"type": "text", "fontSize": 26, "color": "#0b1b82", "align": "left", "baseline": "middle"},
           "encoding": {
             "x": {"field": "t", "type": "quantitative", "axis": null},
             "y": {"field": "v", "type": "quantitative", "axis": null},
             "text": {"field": "s"}
           }},
          {"data": {"values": [{"t": 2.73, "v": 20.6, "s": "CP1"}, {"t": 8.8, "v": 20.7, "s": "CP2"}]},
           "mark": {"type": "text", "fontSize": 25, "color": "white", "align": "center", "baseline": "middle"},
           "encoding": {
             "x": {"field": "t", "type": "quantitative", "axis": null},
             "y": {"field": "v", "type": "quantitative", "axis": null},
             "text": {"field": "s"}
           }},
          {"data": {"name": "cp1"},
           "mark": {"type": "point", "opacity": 0},
           "encoding": {
             "x": {"field": "t", "type": "quantitative", "axis": {"orient": "top", "values": [0,5,10,15], "labels": false, "title": null}},
             "y": {"field": "v", "type": "quantitative", "axis": {"orient": "right", "values": [0,50,100,150], "labels": false, "title": null}}
           }}
        ]
      },
      {
        "width": 286, "height": 209,
        "resolve": {"axis": {"x": "independent", "y": "independent"}},
        "layer": [
          {"data": {"name": "pts"},
           "mark": {"type": "rule", "color": "#4b50a0", "strokeWidth": 1.3, "clip": true},
           "encoding": {
             "x": {"field": "t", "type": "quantitative", "scale": {"domain": [12, 14.6], "nice": false, "zero": false},
                   "axis": {"orient": "bottom", "values": [12.5, 13.2, 14], "labelExpr": "datum.value < 12.9 ? '12.5' : (datum.value < 13.6 ? '13.2' : '14')", "labelPadding": 34, "labelBaseline": "alphabetic", "labelFontSize": 26, "title": "Time (μs)", "titleFontSize": 31, "titleBaseline": "alphabetic", "titleY": 55}},
             "y": {"field": "lo", "type": "quantitative", "scale": {"domain": [0, 7.25], "nice": false, "zero": false},
                   "axis": {"orient": "left", "values": [0,2,4,6], "labelPadding": 16, "labelFontSize": 26, "title": ["Normalized", "Coincidences"], "titleFontSize": 31, "titlePadding": 6, "titleLineHeight": 35}},
             "y2": {"field": "hi"}
           }},
          {"data": {"name": "pts"},
           "mark": {"type": "tick", "orient": "horizontal", "size": 7, "thickness": 1.3, "color": "#4b50a0", "clip": true},
           "encoding": {
             "x": {"field": "t", "type": "quantitative", "axis": null},
             "y": {"field": "lo", "type": "quantitative", "axis": null}
           }},
          {"data": {"name": "pts"},
           "mark": {"type": "tick", "orient": "horizontal", "size": 7, "thickness": 1.3, "color": "#4b50a0", "clip": true},
           "encoding": {
             "x": {"field": "t", "type": "quantitative", "axis": null},
             "y": {"field": "hi", "type": "quantitative", "axis": null}
           }},
          {"data": {"name": "pts"},
           "mark": {"type": "circle", "size": 170, "color": "#0a0f7a", "opacity": 1, "clip": true},
           "encoding": {
             "x": {"field": "t", "type": "quantitative", "axis": null},
             "y": {"field": "v", "type": "quantitative", "axis": null}
           }},
          {"data": {"name": "rfit"},
           "mark": {"type": "line", "color": "#ff1f1f", "strokeWidth": 3, "strokeDash": [2.5, 2], "clip": true},
           "encoding": {
             "x": {"field": "t", "type": "quantitative", "axis": null},
             "y": {"field": "v", "type": "quantitative", "axis": null}
           }},
          {"data": {"values": [{"t": 12.23, "v": 6.4, "s": "(c)"}]},
           "mark": {"type": "text", "fontSize": 30, "color": "black", "align": "center", "baseline": "middle"},
           "encoding": {
             "x": {"field": "t", "type": "quantitative", "axis": null},
             "y": {"field": "v", "type": "quantitative", "axis": null},
             "text": {"field": "s"}
           }},
          {"data": {"name": "rfit"},
           "mark": {"type": "point", "opacity": 0},
           "encoding": {
             "x": {"field": "t", "type": "quantitative", "axis": {"orient": "top", "values": [12.5, 13.2, 14], "labels": false, "title": null}},
             "y": {"field": "v", "type": "quantitative", "axis": {"orient": "right", "values": [0,2,4,6], "labels": false, "title": null}}
           }}
        ]
      }
    ]
  }
]
}
